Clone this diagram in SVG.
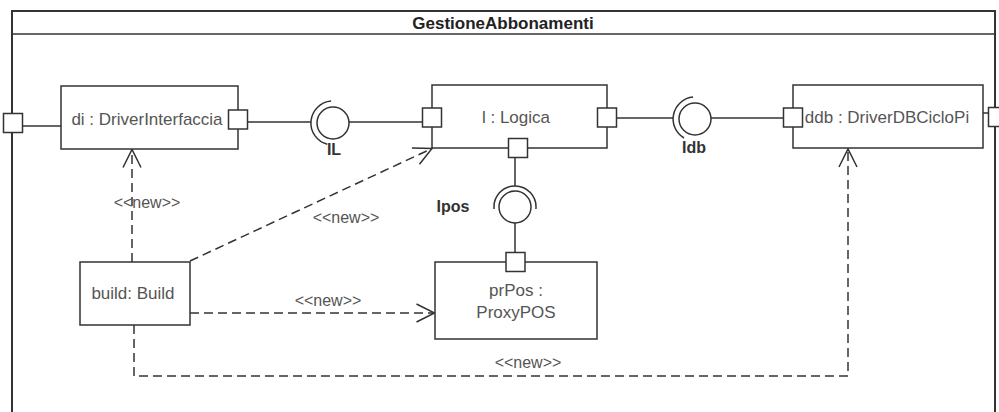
<svg xmlns="http://www.w3.org/2000/svg" width="999" height="412" viewBox="0 0 999 412">
<style>
.box{fill:#fff;stroke:#333;stroke-width:1.5}
.port{fill:#fff;stroke:#333;stroke-width:1.5}
.ln{fill:none;stroke:#333;stroke-width:1.5}
.dash{fill:none;stroke:#333;stroke-width:1.5;stroke-dasharray:9,5}
.t{font-family:"Liberation Sans",Arial,sans-serif;font-size:17px;fill:#555;text-anchor:middle}
.s{font-family:"Liberation Sans",Arial,sans-serif;font-size:16px;fill:#555;text-anchor:middle}
.b{font-family:"Liberation Sans",Arial,sans-serif;font-size:16px;font-weight:bold;fill:#333;text-anchor:middle}
.h{font-family:"Liberation Sans",Arial,sans-serif;font-size:17px;font-weight:bold;fill:#222;text-anchor:middle}
</style>
<defs>
<marker id="open" markerUnits="userSpaceOnUse" markerWidth="24" markerHeight="24" viewBox="-20 -12 24 24" refX="0" refY="0" orient="auto">
<path d="M -18 -9 L 0 0 L -18 9" fill="none" stroke="#333" stroke-width="1.5"/>
</marker>
</defs>
<rect width="999" height="412" fill="#fff"/>
<g id="frame">
<path class="ln" d="M 12 412 L 12 11 L 995 11 L 995 412" style="stroke-width:2"/>
<line class="ln" x1="12" y1="34" x2="995" y2="34"/>
<text class="h" x="503" y="29">GestioneAbbonamenti</text>
<rect class="port" x="3.5" y="113.5" width="19" height="19"/>
<rect class="port" x="988.5" y="107.5" width="19" height="19"/>
</g>
<g id="connectors">
<line class="ln" x1="22.5" y1="126" x2="61" y2="126"/>
<line class="ln" x1="247.5" y1="122" x2="311" y2="122"/>
<line class="ln" x1="349" y1="122" x2="422.5" y2="122"/>
<line class="ln" x1="616.5" y1="118" x2="673" y2="118"/>
<line class="ln" x1="711" y1="118" x2="783.5" y2="118"/>
<line class="ln" x1="983" y1="113" x2="988.5" y2="113"/>
<line class="ln" x1="515" y1="157.5" x2="515" y2="186"/>
<line class="ln" x1="515" y1="223" x2="515" y2="252.5"/>
<path class="dash" d="M 132 262 L 132 149.5" marker-end="url(#open)"/>
<path class="dash" d="M 190 261 L 432 148.5" marker-end="url(#open)"/>
<path class="dash" d="M 190 313 L 434.5 313" marker-end="url(#open)"/>
<path class="dash" d="M 134 325 L 134 376 L 848 376 L 848 149" marker-end="url(#open)"/>
<text class="s" x="147" y="208">&lt;&lt;new&gt;&gt;</text>
<text class="s" x="346" y="223">&lt;&lt;new&gt;&gt;</text>
<text class="s" x="328" y="306">&lt;&lt;new&gt;&gt;</text>
<text class="s" x="528" y="368">&lt;&lt;new&gt;&gt;</text>
</g>
<g id="IL">
<circle cx="333" cy="123" r="16" fill="#fff" stroke="#333" stroke-width="1.5"/>
<path class="ln" d="M 331.1 101.1 A 22 22 0 0 0 327.3 144.3"/>
<text class="b" x="334" y="155">IL</text>
</g>
<g id="Idb">
<circle cx="695" cy="119" r="16" fill="#fff" stroke="#333" stroke-width="1.5"/>
<path class="ln" d="M 693.1 97.1 A 22 22 0 0 0 684 138"/>
<text class="b" x="694" y="153">Idb</text>
</g>
<g id="Ipos">
<circle cx="515" cy="207" r="16" fill="#fff" stroke="#333" stroke-width="1.5"/>
<path class="ln" d="M 494.1 209 A 21 21 0 1 1 535.9 209"/>
<text class="b" x="453" y="212">Ipos</text>
</g>
<g id="di">
<rect class="box" x="61" y="86" width="177" height="63"/>
<text class="t" x="147" y="125">di : DriverInterfaccia</text>
<rect class="port" x="228.5" y="110" width="19" height="19"/>
</g>
<g id="l">
<rect class="box" x="432" y="85" width="175" height="63"/>
<text class="t" x="516" y="123">l : Logica</text>
<rect class="port" x="422.5" y="108" width="19" height="19"/>
<rect class="port" x="597.5" y="108" width="19" height="19"/>
<rect class="port" x="508.5" y="138.5" width="19" height="19"/>
</g>
<g id="ddb">
<rect class="box" x="793" y="85" width="190" height="63"/>
<text class="t" x="887" y="123">ddb : DriverDBCicloPi</text>
<rect class="port" x="783.5" y="108" width="19" height="19"/>
</g>
<g id="build">
<rect class="box" x="80" y="262" width="110" height="63"/>
<text class="t" x="133" y="299">build: Build</text>
</g>
<g id="prPos">
<rect class="box" x="435" y="262" width="162" height="77"/>
<text class="t" x="516" y="296">prPos :</text>
<text class="t" x="516" y="318">ProxyPOS</text>
<rect class="port" x="506" y="252.5" width="19" height="19"/>
</g>
</svg>
